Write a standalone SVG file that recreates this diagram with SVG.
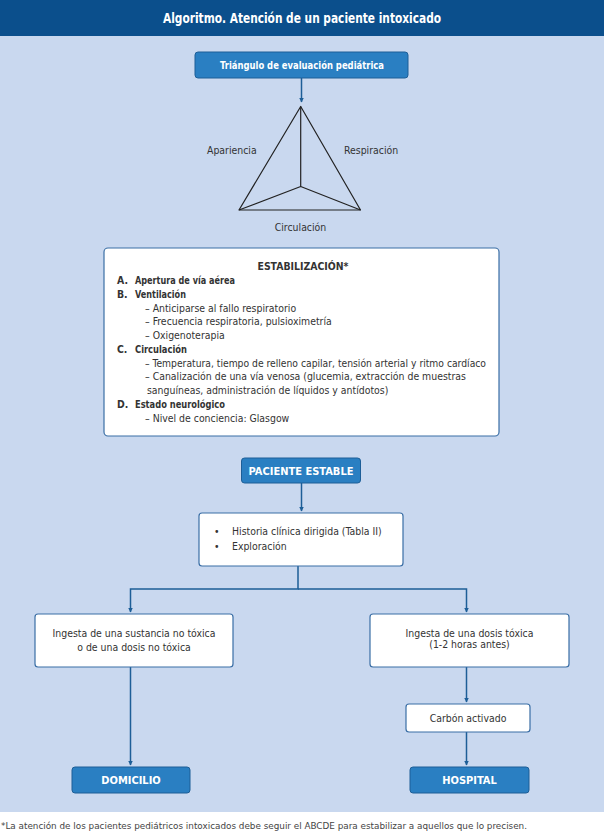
<svg xmlns="http://www.w3.org/2000/svg" width="606" height="836" viewBox="0 0 606 836">
<defs>
<style>
text{font-family:"Liberation Sans Narrow","DejaVu Sans Condensed","Liberation Sans",sans-serif;}
.btn{fill:#2a7fc2;stroke:#1d5e97;stroke-width:1;}
.wbox{fill:#ffffff;stroke:#3a6ea5;stroke-width:1.2;}
.btxt{fill:#ffffff;font-weight:bold;font-size:11px;text-anchor:middle;}
.t{fill:#333333;font-size:10.4px;}
.tc{fill:#333333;font-size:10.4px;text-anchor:middle;}
.b{font-weight:bold;}
.conn{fill:none;stroke:#1d5e97;stroke-width:1.5;}
.tri{fill:none;stroke:#222222;stroke-width:1.2;stroke-linejoin:round;}
</style>
<marker id="arr" viewBox="0 0 10 10" refX="9" refY="5" markerWidth="5" markerHeight="5" orient="auto" markerUnits="userSpaceOnUse">
<path d="M0,0 L10,5 L0,10 z" fill="#1d5e97"/>
</marker>
</defs>
<rect x="0" y="0" width="606" height="836" fill="#ffffff"/>
<rect x="0" y="36" width="604" height="776" fill="#c9d8ef"/>
<g id="header">
<rect x="0" y="0" width="604" height="36" fill="#0b4f8c"/>
<text x="302" y="23" fill="#ffffff" font-weight="bold" font-size="14.5" text-anchor="middle" textLength="278" lengthAdjust="spacingAndGlyphs">Algoritmo. Atención de un paciente intoxicado</text>
</g>
<g id="connectors">
<line class="conn" x1="301.5" y1="78" x2="301.5" y2="102" marker-end="url(#arr)"/>
<line class="conn" x1="301.5" y1="483" x2="301.5" y2="511" marker-end="url(#arr)"/>
<polyline class="conn" points="298,566 298,589 130.5,589 130.5,612" marker-end="url(#arr)"/>
<polyline class="conn" points="298,589 466.5,589 466.5,612" marker-end="url(#arr)"/>
<line class="conn" x1="130.5" y1="667" x2="130.5" y2="765" marker-end="url(#arr)"/>
<line class="conn" x1="466.5" y1="667" x2="466.5" y2="702" marker-end="url(#arr)"/>
<line class="conn" x1="466.5" y1="732" x2="466.5" y2="765" marker-end="url(#arr)"/>
</g>
<g id="tep">
<rect class="btn" x="195" y="52" width="213" height="26" rx="3"/>
<text class="btxt" x="302" y="69" font-size="10.5" textLength="164" lengthAdjust="spacingAndGlyphs">Triángulo de evaluación pediátrica</text>
</g>
<g id="triangulo">
<polygon class="tri" points="300.7,106.5 239,210 360.5,210"/>
<polyline class="tri" points="300.7,106.5 300.7,186.5"/>
<polyline class="tri" points="239,210 300.7,186.5 360.5,210"/>
<text class="t" x="207" y="154">Apariencia</text>
<text class="t" x="344" y="154">Respiración</text>
<text class="tc" x="300.5" y="231">Circulación</text>
</g>
<g id="estabilizacion">
<rect class="wbox" x="104" y="248" width="395" height="188" rx="4"/>
<text class="tc b" x="303" y="270" textLength="91" lengthAdjust="spacingAndGlyphs">ESTABILIZACIÓN*</text>
<text class="t b" x="117" y="284">A.</text><text class="t b" x="135" y="284" textLength="100" lengthAdjust="spacingAndGlyphs">Apertura de vía aérea</text>
<text class="t b" x="117" y="297.5">B.</text><text class="t b" x="135" y="297.5" textLength="51" lengthAdjust="spacingAndGlyphs">Ventilación</text>
<text class="t" x="145" y="312">–  Anticiparse al fallo respiratorio</text>
<text class="t" x="145" y="325">–  Frecuencia respiratoria, pulsioximetría</text>
<text class="t" x="145" y="339">–  Oxigenoterapia</text>
<text class="t b" x="117" y="352.5">C.</text><text class="t b" x="135" y="352.5" textLength="52" lengthAdjust="spacingAndGlyphs">Circulación</text>
<text class="t" x="145" y="366.5" textLength="341" lengthAdjust="spacingAndGlyphs">–  Temperatura, tiempo de relleno capilar, tensión arterial y ritmo cardíaco</text>
<text class="t" x="145" y="380">–  Canalización de una vía venosa (glucemia, extracción de muestras</text>
<text class="t" x="147" y="394">sanguíneas, administración de líquidos y antídotos)</text>
<text class="t b" x="117" y="407.5">D.</text><text class="t b" x="135" y="407.5" textLength="90" lengthAdjust="spacingAndGlyphs">Estado neurológico</text>
<text class="t" x="145" y="421.5">–  Nivel de conciencia: Glasgow</text>
</g>
<g id="estable">
<rect class="btn" x="241.5" y="458" width="119" height="25" rx="3"/>
<text class="btxt" x="301" y="474.5">PACIENTE ESTABLE</text>
</g>
<g id="historia">
<rect class="wbox" x="199" y="513" width="204" height="53" rx="3"/>
<text class="t" x="214" y="535">•</text><text class="t" x="232" y="535">Historia clínica dirigida (Tabla II)</text>
<text class="t" x="214" y="550">•</text><text class="t" x="232" y="550">Exploración</text>
</g>
<g id="no-toxica">
<rect class="wbox" x="35" y="614" width="198" height="53" rx="3"/>
<text class="tc" x="134" y="636.5">Ingesta de una sustancia no tóxica</text>
<text class="tc" x="134" y="651">o de una dosis no tóxica</text>
</g>
<g id="toxica">
<rect class="wbox" x="370" y="614" width="199" height="53" rx="3"/>
<text class="tc" x="469.5" y="636.5">Ingesta de una dosis tóxica</text>
<text class="tc" x="469.5" y="648">(1-2 horas antes)</text>
</g>
<g id="carbon">
<rect class="wbox" x="406" y="704" width="124" height="28" rx="3"/>
<text class="tc" x="468" y="721.5">Carbón activado</text>
</g>
<g id="domicilio">
<rect class="btn" x="72" y="767" width="118" height="26" rx="3"/>
<text class="btxt" x="131" y="784">DOMICILIO</text>
</g>
<g id="hospital">
<rect class="btn" x="410" y="767" width="119" height="26" rx="3"/>
<text class="btxt" x="469.5" y="784">HOSPITAL</text>
</g>
<text x="1" y="829" fill="#444444" font-size="9.5" textLength="526" lengthAdjust="spacingAndGlyphs">*La atención de los pacientes pediátricos intoxicados debe seguir el ABCDE para estabilizar a aquellos que lo precisen.</text>
</svg>
